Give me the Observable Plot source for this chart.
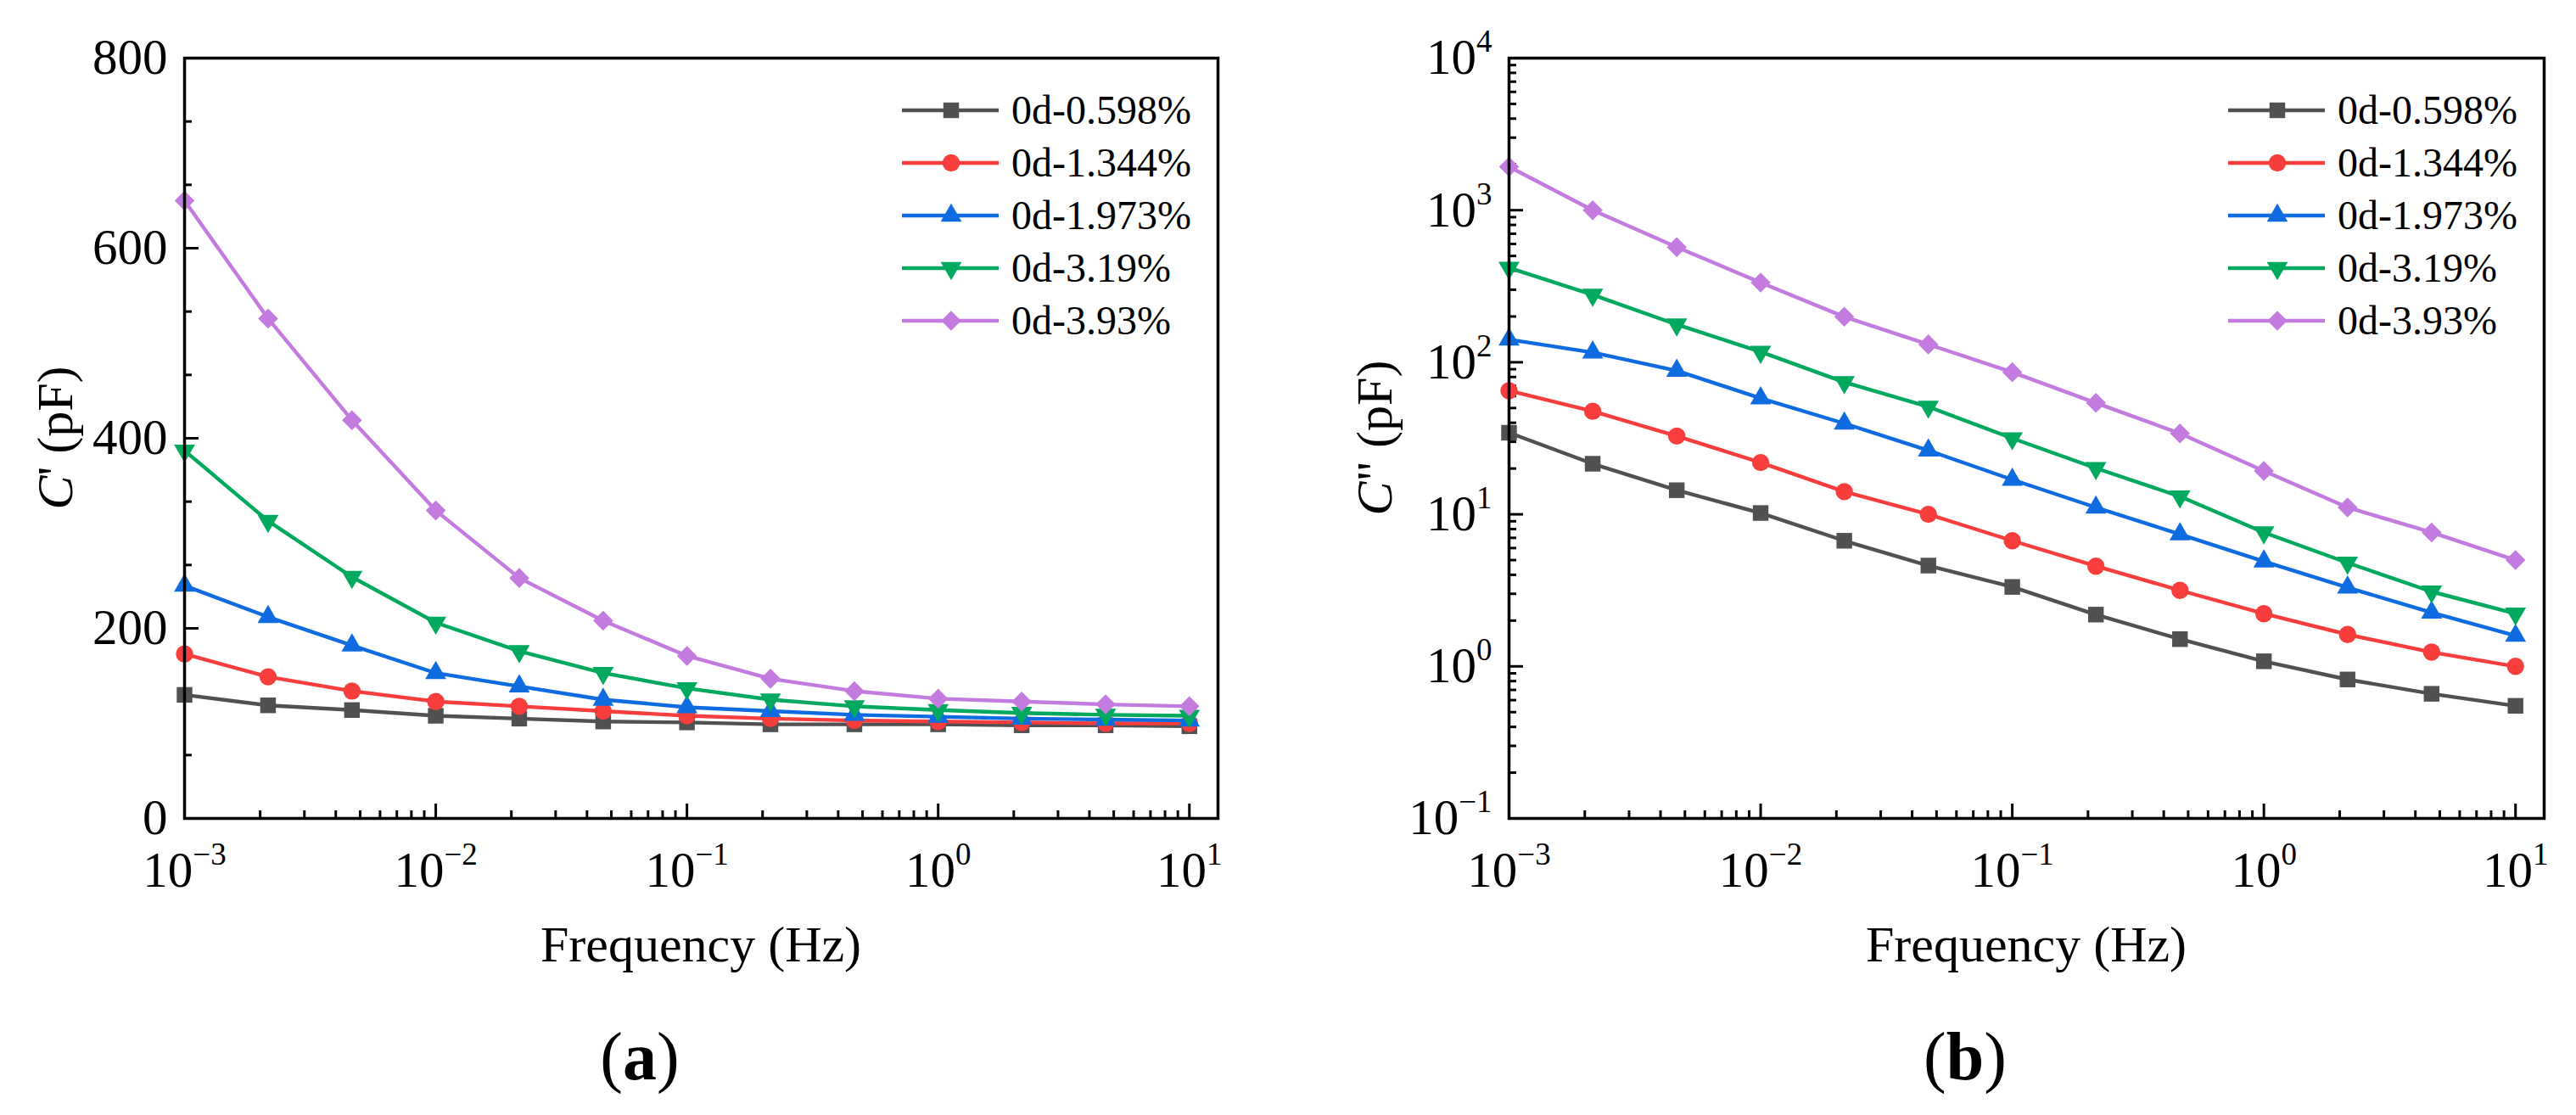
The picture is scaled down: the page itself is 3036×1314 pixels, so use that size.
<!DOCTYPE html>
<html>
<head>
<meta charset="utf-8">
<script src="https://cdn.jsdelivr.net/npm/d3@7"></script>
<script src="https://cdn.jsdelivr.net/npm/@observablehq/plot@0.6"></script>
<style>
  html, body { margin: 0; padding: 0; background: #fff; }
  #wrap { position: relative; width: 3036px; height: 1314px; overflow: hidden; }
  #wrap svg { position: absolute; top: 0; }
</style>
</head>
<body>
<div id="wrap"></div>
<script>
// ---------------- data ----------------
const freq = [0.001, 0.00215, 0.00464, 0.01, 0.0215, 0.0464, 0.1, 0.215, 0.464, 1, 2.15, 4.64, 10];
const seriesNames = ["0d-0.598%", "0d-1.344%", "0d-1.973%", "0d-3.19%", "0d-3.93%"];
const seriesColors = ["#515151", "#F83D3D", "#0F6CE0", "#00A95E", "#C47BE0"];
const seriesSymbols = ["square", "circle", "triangle", "triangle-down", "diamond2"];

// (a) C' (pF)
const cReal0598 = [130, 119, 114, 108, 105, 102, 101, 99, 99, 99, 98, 98, 97];
const cReal1344 = [173, 149, 134, 123, 118, 113, 108, 105, 103, 102, 101, 100, 100];
const cReal1973 = [245, 212, 182, 153, 139, 125, 117, 113, 109, 107, 105, 104, 103];
const cReal319  = [387, 313, 254, 206, 176, 153, 137, 125, 118, 114, 111, 109, 108];
const cReal393  = [650, 526, 419, 324, 253, 208, 171, 147, 134, 126, 123, 120, 118];

// (b) C'' (pF)
const cImag0598 = [34.4, 21.5, 14.4, 10.2, 6.7, 4.6, 3.33, 2.19, 1.51, 1.08, 0.82, 0.66, 0.55];
const cImag1344 = [65, 47.6, 32.7, 21.9, 14.1, 10.0, 6.7, 4.56, 3.16, 2.22, 1.62, 1.24, 1.0];
const cImag1973 = [141, 116, 88, 58, 39.6, 26.3, 16.9, 11.1, 7.4, 4.9, 3.3, 2.26, 1.59];
const cImag319  = [418, 278, 177, 117, 74, 51, 31.6, 20.1, 13.1, 7.6, 4.8, 3.1, 2.22];
const cImag393  = [1930, 1000, 572, 334, 199, 131, 86, 54, 34, 19.3, 11.1, 7.6, 5.0];

// tick values
const xMajorTicks = [0.001, 0.01, 0.1, 1, 10];
const xMinorTicks = [0.002,0.003,0.004,0.005,0.006,0.007,0.008,0.009,
                     0.02,0.03,0.04,0.05,0.06,0.07,0.08,0.09,
                     0.2,0.3,0.4,0.5,0.6,0.7,0.8,0.9,
                     2,3,4,5,6,7,8,9];
const yMajorTicksA = [0, 200, 400, 600, 800];
const yMinorTicksA = [66.67, 133.33, 266.67, 333.33, 466.67, 533.33, 666.67, 733.33];
const yMajorTicksB = [0.1, 1, 10, 100, 1000, 10000];
const yMinorTicksB = [0.2,0.3,0.4,0.5,0.6,0.7,0.8,0.9,
                      2,3,4,5,6,7,8,9,
                      20,30,40,50,60,70,80,90,
                      200,300,400,500,600,700,800,900,
                      2000,3000,4000,5000,6000,7000,8000,9000];

// ---------------- drawing ----------------
const W = 1518, H = 1314, MT = 68, MB = 350;
const FONT = "'Liberation Serif', 'Times New Roman', serif";
const symbolR = {"square": 10.4, "circle": 10.2, "triangle": 9.2, "triangle-down": 9.2, "diamond2": 10.6};

function expFmt(d) { return "10^" + Math.round(Math.log10(d)); }

function panel({marginLeft, marginRight, yType, yDomain, yMajor, yMinor, yFormat, series, yTitle, tag, tagX, yTitleOffset}) {
  const plotW = W - marginLeft - marginRight;
  const plotH = H - MT - MB;
  const marks = [
    Plot.ruleX(xMinorTicks, {x: d => d, insetTop: plotH - 9, stroke: "#000", strokeWidth: 3}),
    Plot.ruleX(xMajorTicks, {x: d => d, insetTop: plotH - 17, stroke: "#000", strokeWidth: 3}),
    Plot.ruleY(yMinor, {y: d => d, insetRight: plotW - 9, stroke: "#000", strokeWidth: 3}),
    Plot.ruleY(yMajor, {y: d => d, insetRight: plotW - 17, stroke: "#000", strokeWidth: 3}),
    Plot.axisX(xMajorTicks, {tickSize: 0, tickPadding: 39, fontSize: 59, tickFormat: expFmt, label: null}),
    Plot.axisY(yMajor, {tickSize: 0, tickPadding: 20, fontSize: 59, tickFormat: yFormat, label: null})
  ];
  series.forEach((vals, i) => {
    const rows = freq.map((f, j) => ({f, v: vals[j]}));
    const sym = seriesSymbols[i];
    marks.push(Plot.line(rows, {x: "f", y: "v", stroke: seriesColors[i], strokeWidth: 4.4}));
    marks.push(Plot.dot(rows, {
      x: "f", y: "v",
      symbol: sym === "triangle-down" ? "triangle" : sym,
      rotate: sym === "triangle-down" ? 180 : 0,
      r: symbolR[sym], fill: seriesColors[i], stroke: "none"
    }));
  });
  marks.push(Plot.frame({stroke: "#000", strokeWidth: 3.5}));

  const svg = Plot.plot({
    width: W, height: H,
    marginLeft, marginRight, marginTop: MT, marginBottom: MB,
    x: {type: "log", domain: [0.001, 13]},
    y: {type: yType, domain: yDomain},
    style: {fontFamily: FONT, color: "#000", background: "transparent", overflow: "visible"},
    marks
  });

  // superscript exponents on tick labels
  d3.select(svg).selectAll('g[aria-label$="tick label"] text').each(function () {
    const s = d3.select(this).text();
    const parts = s.split("^");
    if (parts.length !== 2) return;
    const t = d3.select(this);
    t.text(null);
    t.append("tspan").text(parts[0]);
    t.append("tspan").attr("dy", -26).attr("font-size", 37).text(parts[1].replace("-", "\u2212"));
  });

  const g = d3.select(svg).append("g").attr("font-family", FONT).attr("fill", "#000");
  const frameRight = W - marginRight;
  const cx = marginLeft + plotW / 2;

  // x title
  g.append("text").attr("x", cx).attr("y", 1133).attr("text-anchor", "middle")
    .attr("font-size", 60).text("Frequency (Hz)");

  // y title
  const yt = g.append("text")
    .attr("transform", `translate(${marginLeft - yTitleOffset},${MT + plotH / 2}) rotate(-90)`)
    .attr("text-anchor", "middle").attr("font-size", 60);
  yt.append("tspan").attr("font-style", "italic").text("C");
  yt.append("tspan").text(yTitle);

  // panel tag
  const tg = g.append("text").attr("x", cx + tagX).attr("y", 1272).attr("text-anchor", "middle").attr("font-size", 80);
  tg.append("tspan").text("(");
  tg.append("tspan").attr("font-weight", "bold").text(tag);
  tg.append("tspan").text(")");

  // legend
  const symMap = {
    "square": d3.symbolSquare, "circle": d3.symbolCircle, "triangle": d3.symbolTriangle,
    "triangle-down": d3.symbolTriangle, "diamond2": d3.symbolDiamond2
  };
  seriesNames.forEach((name, i) => {
    const y = 130 + i * 62;
    const sym = seriesSymbols[i];
    g.append("line").attr("x1", frameRight - 372).attr("x2", frameRight - 258)
      .attr("y1", y).attr("y2", y).attr("stroke", seriesColors[i]).attr("stroke-width", 4.4);
    const r = symbolR[sym];
    g.append("path")
      .attr("d", d3.symbol(symMap[sym], Math.PI * r * r)())
      .attr("transform", `translate(${frameRight - 314},${y})${sym === "triangle-down" ? " rotate(180)" : ""}`)
      .attr("fill", seriesColors[i]);
    g.append("text").attr("x", frameRight - 243).attr("y", y + 16)
      .attr("text-anchor", "start").attr("font-size", 48).text(name);
  });

  return svg;
}

const wrap = document.getElementById("wrap");

const svgA = panel({
  marginLeft: 217, marginRight: 83,
  yType: "linear", yDomain: [0, 800],
  yMajor: yMajorTicksA, yMinor: yMinorTicksA, yFormat: d => String(d),
  series: [cReal0598, cReal1344, cReal1973, cReal319, cReal393],
  yTitle: "' (pF)", tag: "a", tagX: -72, yTitleOffset: 132
});
svgA.style.left = "0px";
wrap.appendChild(svgA);

const svgB = panel({
  marginLeft: 260, marginRight: 38,
  yType: "log", yDomain: [0.1, 10000],
  yMajor: yMajorTicksB, yMinor: yMinorTicksB, yFormat: expFmt,
  series: [cImag0598, cImag1344, cImag1973, cImag319, cImag393],
  yTitle: "\" (pF)", tag: "b", tagX: -72, yTitleOffset: 138
});
svgB.style.left = "1518px";
wrap.appendChild(svgB);
</script>
</body>
</html>
